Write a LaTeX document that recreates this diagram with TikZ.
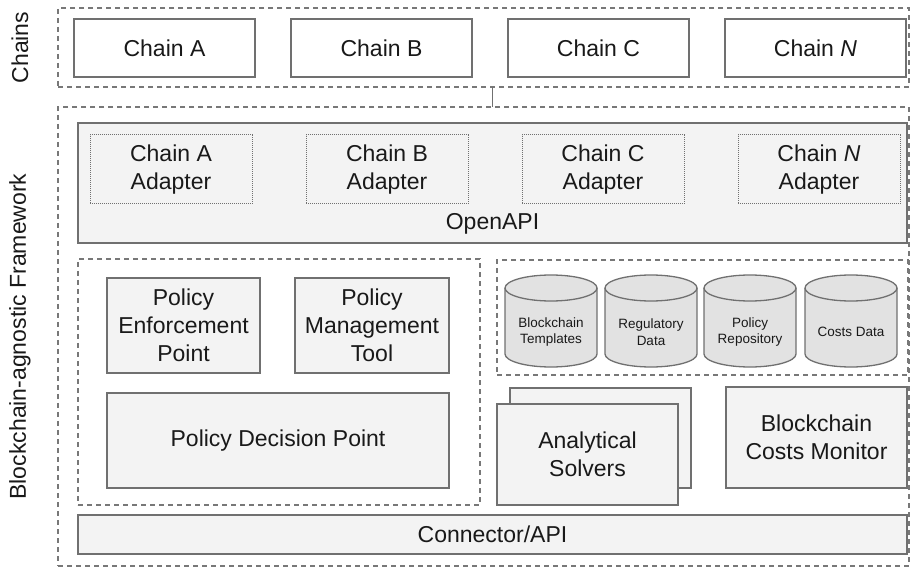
\documentclass[tikz,border=0pt]{standalone}
\usepackage{fontspec}
\setmainfont{Liberation Sans}
\usepackage{xcolor}
\usepackage{tikz}
\usetikzlibrary{
  calc,
  positioning
}
\definecolor{edgegray}{RGB}{112,112,112}
\definecolor{dashgray}{RGB}{120,120,120}
\definecolor{layerfill}{RGB}{243,243,243}
\definecolor{drumfill}{RGB}{226,226,226}
\definecolor{inkblack}{RGB}{25,25,25}
\newcommand{\boxfont}{\fontsize{23}{28}\selectfont}
\newcommand{\drumfont}{\fontsize{13.5}{16.5}\selectfont}

\begin{document}
\begin{tikzpicture}[
  x=1pt, y=1pt,
  every node/.style={inner sep=0pt, outer sep=0pt, text=inkblack},
  block/.style={draw=edgegray, line width=1.5pt, align=center, font=\boxfont},
  chainbox/.style={block, fill=white, minimum width=181pt, minimum height=58pt},
  layer/.style={block, fill=layerfill},
  adapter/.style={draw=edgegray, line width=1pt, dash pattern=on 1pt off 1pt,
                  align=center, font=\boxfont, minimum width=162pt, minimum height=69pt},
  group/.style={draw=dashgray, line width=1.3pt, dash pattern=on 5pt off 4pt},
  drum/.style={draw=edgegray, line width=1.3pt, fill=drumfill},
  drumtext/.style={align=center, font=\drumfont},
  sidelabel/.style={rotate=90, font=\boxfont}
]
\useasboundingbox (0,0) rectangle (912,-569);

% Chains layer
\node[group, minimum width=851pt, minimum height=79pt] (chains) at (483.5,-47.5) {};
\node[chainbox] (chainA) at (164.5,-48) {Chain A};
\node[chainbox, right=36pt of chainA] (chainB) {Chain B};
\node[chainbox, right=36pt of chainB] (chainC) {Chain C};
\node[chainbox, right=36pt of chainC] (chainN) {Chain \textit{N}};
\node[sidelabel] (chainslbl) at ([xshift=-38pt]chains.west) {Chains};

% Framework
\node[group, minimum width=851pt, minimum height=459pt] (framework) at (483.5,-336.5) {};
\node[sidelabel] (frameworklbl) at ([xshift=-38pt]framework.west) {Blockchain-agnostic Framework};

% OpenAPI with the chain adapters
\node[layer, minimum width=829pt, minimum height=120pt] (openapi) at (492.5,-183) {};
\node[adapter] (adaptA) at (171,-169.5) {Chain A\\Adapter};
\node[adapter, right=54pt of adaptA] (adaptB) {Chain B\\Adapter};
\node[adapter, right=54pt of adaptB] (adaptC) {Chain C\\Adapter};
\node[adapter, right=54pt of adaptC] (adaptN) {Chain \textit{N}\\Adapter};
\node[font=\boxfont] (openapilbl) at ([yshift=19pt]openapi.south) {OpenAPI};

\draw[edgegray, line width=1.3pt] (chains.south -| openapi.north) -- (framework.north -| openapi.north);

% Policy components
\node[group, minimum width=402pt, minimum height=246pt] (policy) at (279,-382) {};
\node[layer, minimum width=153pt, minimum height=95pt] (pep) at (183.5,-325.5) {Policy\\Enforcement\\Point};
\node[layer, minimum width=154pt, minimum height=95pt, right=35pt of pep] (pmt) {Policy\\Management\\Tool};
\node[layer, minimum width=342pt, minimum height=95pt] (pdp) at (278,-440.5) {Policy Decision Point};

% Data stores
\node[group, minimum width=411pt, minimum height=115pt] (stores) at (702.5,-317.5) {};
\foreach \i/\cx/\txt in {1/551/{Blockchain\\Templates}, 2/651/{Regulatory\\Data},
                         3/750/{Policy\\Repository}, 4/851/{Costs Data}} {
  \draw[drum] (\cx-46,-288) -- (\cx-46,-354)
    arc[start angle=180, end angle=360, x radius=46pt, y radius=13pt]
    -- (\cx+46,-288)
    arc[start angle=0, end angle=180, x radius=46pt, y radius=13pt] -- cycle;
  \draw[drum, fill=none] (\cx-46,-288)
    arc[start angle=180, end angle=360, x radius=46pt, y radius=13pt];
  \node[drumtext] (db\i) at (\cx,-332) {\txt};
}

% Solvers and monitor
\node[layer, minimum width=181pt, minimum height=100pt] (solversback) at (600.5,-438) {};
\node[layer, minimum width=181pt, minimum height=101pt] (solvers) at (587.5,-454.5) {Analytical\\Solvers};
\node[layer, minimum width=181pt, minimum height=101pt] (monitor) at (816.5,-437.5) {Blockchain\\Costs Monitor};

% Connector
\node[layer, minimum width=829pt, minimum height=39pt] (connector) at (492.5,-534.5) {Connector/API};

\end{tikzpicture}
\end{document}
